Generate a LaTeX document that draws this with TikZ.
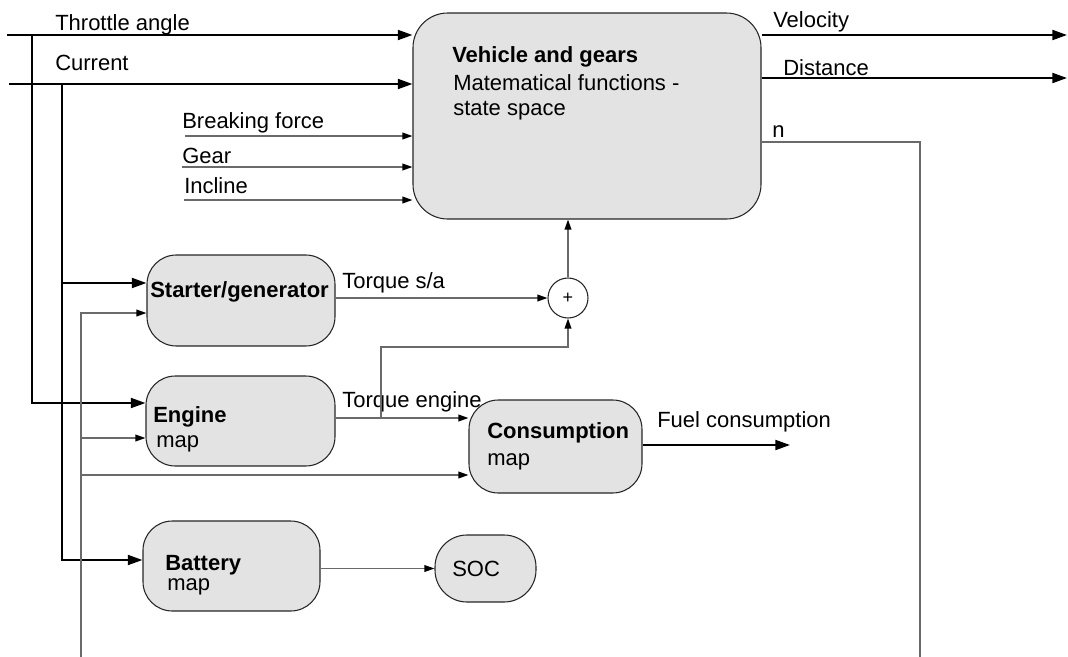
\documentclass[tikz,border=0pt]{standalone}
\usepackage{fontspec}
\setmainfont{Liberation Sans}
\usetikzlibrary{arrows.meta}
\definecolor{boxgray}{HTML}{E3E3E3}
\definecolor{lgray}{HTML}{6A6A6A}
\begin{document}
\begin{tikzpicture}[x=0.75pt,y=-0.75pt,
  box/.style={draw=black!85, line width=0.8pt, fill=boxgray, rounded corners=22pt, inner sep=0pt},
  thkline/.style={line width=1.5pt, black},
  thk/.style={thkline, -{Triangle[length=11pt,width=7.5pt]}},
  thnline/.style={line width=1pt, lgray},
  thn/.style={thnline, -{Triangle[length=7.5pt,width=5pt,color=black,fill=black]}},
  lbl/.style={anchor=base west, inner sep=0pt, font=\fontsize{16.5}{19}\selectfont},
  blbl/.style={anchor=base west, inner sep=0pt, font=\fontsize{16.5}{19}\selectfont\bfseries},
]
\useasboundingbox (0,0) rectangle (1068,657);

% boxes
\node[box, rounded corners=26pt, minimum width=348*0.75pt, minimum height=206*0.75pt] (veh) at (587,116) {};
\node[box, minimum width=188*0.75pt, minimum height=91*0.75pt] (sg) at (241,300.5) {};
\node[box, minimum width=189*0.75pt, minimum height=90*0.75pt] (eng) at (240.5,421) {};
\node[box, minimum width=173*0.75pt, minimum height=93*0.75pt] (cons) at (555.5,446.5) {};
\node[box, minimum width=177*0.75pt, minimum height=90*0.75pt] (bat) at (231.5,566) {};
\node[box, rounded corners=24pt, minimum width=101*0.75pt, minimum height=67*0.75pt] (soc) at (485.5,568.5) {};
\node[circle, draw=black!85, line width=0.8pt, fill=white, minimum size=40*0.75pt, inner sep=0pt, font=\fontsize{13.5}{15}\selectfont] (plus) at (568,298) {+};

% texts
\node[blbl] (tVeh) at (452,62) {Vehicle and gears};
\node[lbl] (tMat) at (453,90) {Matematical functions -};
\node[lbl] (tSta) at (453,115) {state space};
\node[lbl] (tThr) at (55,30) {Throttle angle};
\node[lbl] (tCur) at (55,70) {Current};
\node[lbl] (tBrk) at (182,128) {Breaking force};
\node[lbl] (tGear) at (182,163) {Gear};
\node[lbl] (tInc) at (184,193) {Incline};
\node[lbl] (tVel) at (773,27) {Velocity};
\node[lbl] (tDist) at (783,75) {Distance};
\node[lbl] (tN) at (772,137) {n};
\node[blbl] (tSG) at (150,297) {Starter/generator};
\node[lbl] (tTsa) at (342,288) {Torque s/a};
\node[lbl] (tTe) at (342,407) {Torque engine};
\node[blbl] (tEng) at (153,422) {Engine};
\node[lbl] (tEmap) at (156,447) {map};
\node[blbl] (tCons) at (487,438) {Consumption};
\node[lbl] (tCmap) at (487,465) {map};
\node[lbl] (tFuel) at (657,427) {Fuel consumption};
\node[blbl] (tBat) at (165,570) {Battery};
\node[lbl] (tBmap) at (167,590) {map};
\node[lbl] (tSOC) at (452,576) {SOC};

% free ends
\coordinate (thrIn) at (7,35);
\coordinate (curIn) at (9,84);
\coordinate (thrJ) at (32,35);
\coordinate (curJ) at (62,84);
\coordinate (curSG) at (62,283);
\coordinate (grayB) at (81,657);
\coordinate (grayE) at (81,438);
\coordinate (grayC) at (81,475);
\coordinate (brkIn) at (185,136);
\coordinate (gearIn) at (182,167);
\coordinate (incIn) at (184,200);
\coordinate (velOut) at (1067,35);
\coordinate (distOut) at (1067,78);
\coordinate (nCorner) at (920,142);
\coordinate (nOut) at (920,657);
\coordinate (teJ) at (381,418);
\coordinate (fuelOut) at (790,445);

% thick connectors
\draw[thk] (thrIn) -- (veh.west |- thrIn);
\draw[thk] (curIn) -- (veh.west |- curIn);
\draw[thk] (thrJ) |- (eng.west |- 0,403);
\draw[thk] (curJ) |- (bat.west |- 0,560);
\draw[thk] (curSG) -- (sg.west |- curSG);
\draw[thk] (veh.east |- velOut) -- (velOut);
\draw[thk] (veh.east |- distOut) -- (distOut);
\draw[thk] (cons.east |- fuelOut) -- (fuelOut);

% thin connectors
\draw[thn] (grayB) |- (sg.west |- 0,313);
\draw[thn] (grayE) -- (eng.west |- grayE);
\draw[thn] (grayC) -- (cons.west |- grayC);
\draw[thn] (brkIn) -- (veh.west |- brkIn);
\draw[thn] (gearIn) -- (veh.west |- gearIn);
\draw[thn] (incIn) -- (veh.west |- incIn);
\draw[thnline] (veh.east |- nCorner) -- (nCorner) -- (nOut);
\draw[thn] (sg.east |- plus.west) -- (plus.west);
\draw[thn] (plus.north) -- (veh.south -| plus.north);
\draw[thn] (eng.east |- teJ) -- (cons.west |- teJ);
\draw[thn] (teJ) |- (plus.south |- 0,347) -- (plus.south);
\draw[thn] (bat.east |- soc.west) -- (soc.west);
\end{tikzpicture}
\end{document}
